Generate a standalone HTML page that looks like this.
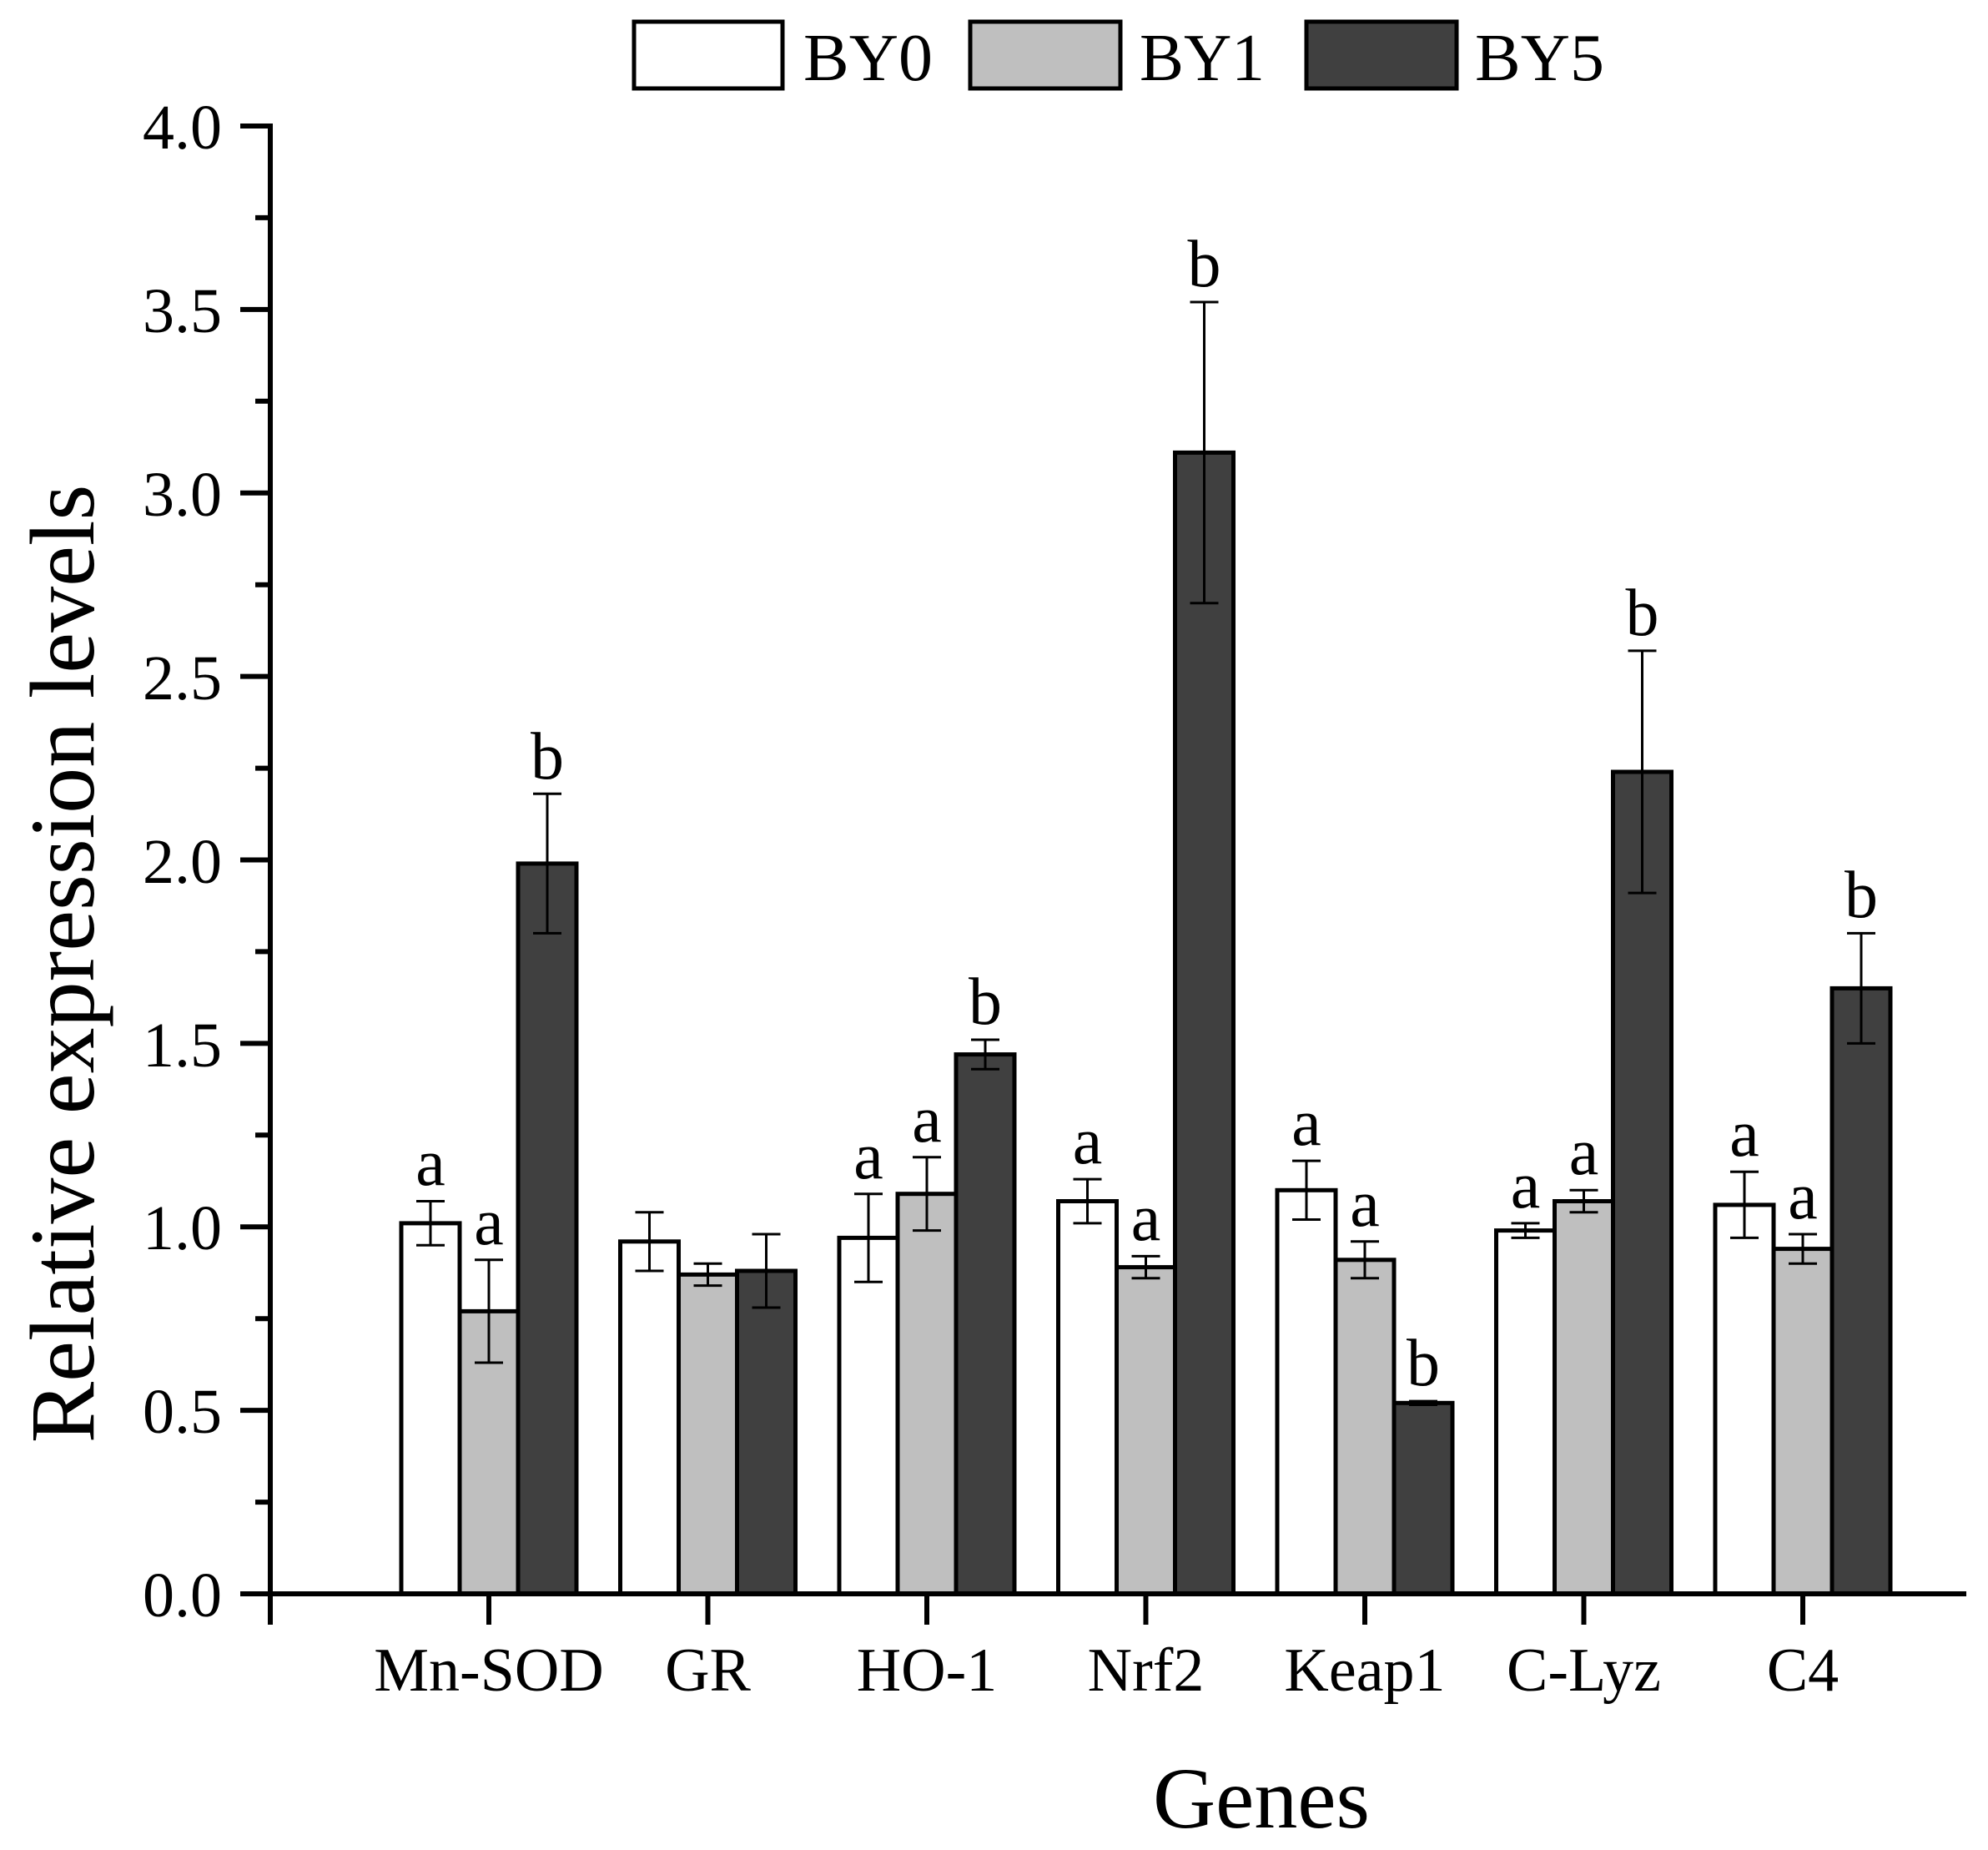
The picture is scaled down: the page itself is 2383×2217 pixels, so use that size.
<!DOCTYPE html>
<html><head><meta charset="utf-8"><style>html,body{margin:0;padding:0;background:#fff}svg{display:block}</style></head>
<body>
<svg width="2383" height="2217" viewBox="0 0 2383 2217" xmlns="http://www.w3.org/2000/svg" font-family="Liberation Serif, serif">
<rect width="2383" height="2217" fill="#fff"/>
<g stroke="#000" stroke-width="5">
<rect x="760" y="26" width="178" height="80" fill="#fff"/>
<rect x="1163" y="26" width="180" height="80" fill="#bfbfbf"/>
<rect x="1566" y="26" width="180" height="80" fill="#404040"/>
</g>
<g font-size="80" fill="#000">
<text x="963" y="96" textLength="155" lengthAdjust="spacingAndGlyphs">BY0</text>
<text x="1366" y="96" textLength="150" lengthAdjust="spacingAndGlyphs">BY1</text>
<text x="1768" y="96" textLength="155" lengthAdjust="spacingAndGlyphs">BY5</text>
</g>
<g stroke="#000" stroke-width="5">
<rect x="481" y="1465.9" width="70" height="444.1" fill="#fff"/>
<rect x="551" y="1571.4" width="70" height="338.6" fill="#bfbfbf"/>
<rect x="621" y="1034.9" width="70" height="875.1" fill="#404040"/>
<rect x="743.5" y="1487.8" width="70" height="422.2" fill="#fff"/>
<rect x="813.5" y="1527.4" width="70" height="382.6" fill="#bfbfbf"/>
<rect x="883.5" y="1523" width="70" height="387" fill="#404040"/>
<rect x="1006" y="1483.4" width="70" height="426.6" fill="#fff"/>
<rect x="1076" y="1430.7" width="70" height="479.3" fill="#bfbfbf"/>
<rect x="1146" y="1263.6" width="70" height="646.4" fill="#404040"/>
<rect x="1268.5" y="1439.5" width="70" height="470.5" fill="#fff"/>
<rect x="1338.5" y="1518.6" width="70" height="391.4" fill="#bfbfbf"/>
<rect x="1408.5" y="542.4" width="70" height="1367.6" fill="#404040"/>
<rect x="1531" y="1426.3" width="70" height="483.7" fill="#fff"/>
<rect x="1601" y="1509.8" width="70" height="400.2" fill="#bfbfbf"/>
<rect x="1671" y="1681.3" width="70" height="228.7" fill="#404040"/>
<rect x="1793.5" y="1474.6" width="70" height="435.4" fill="#fff"/>
<rect x="1863.5" y="1439.5" width="70" height="470.5" fill="#bfbfbf"/>
<rect x="1933.5" y="925" width="70" height="985" fill="#404040"/>
<rect x="2056" y="1443.9" width="70" height="466.1" fill="#fff"/>
<rect x="2126" y="1496.6" width="70" height="413.4" fill="#bfbfbf"/>
<rect x="2196" y="1184.4" width="70" height="725.6" fill="#404040"/>
</g>
<g stroke="#000" stroke-width="3" fill="none">
<path d="M516 1492.2V1439.5M499 1492.2h34M499 1439.5h34"/>
<path d="M586 1633V1509.8M569 1633h34M569 1509.8h34"/>
<path d="M656 1118.4V951.3M639 1118.4h34M639 951.3h34"/>
<path d="M778.5 1523V1452.7M761.5 1523h34M761.5 1452.7h34"/>
<path d="M848.5 1540.6V1514.2M831.5 1540.6h34M831.5 1514.2h34"/>
<path d="M918.5 1567V1479M901.5 1567h34M901.5 1479h34"/>
<path d="M1041 1536.2V1430.7M1024 1536.2h34M1024 1430.7h34"/>
<path d="M1111 1474.6V1386.7M1094 1474.6h34M1094 1386.7h34"/>
<path d="M1181 1281.2V1246M1164 1281.2h34M1164 1246h34"/>
<path d="M1303.5 1465.9V1413.1M1286.5 1465.9h34M1286.5 1413.1h34"/>
<path d="M1373.5 1531.8V1505.4M1356.5 1531.8h34M1356.5 1505.4h34"/>
<path d="M1443.5 722.7V362M1426.5 722.7h34M1426.5 362h34"/>
<path d="M1566 1461.5V1391.1M1549 1461.5h34M1549 1391.1h34"/>
<path d="M1636 1531.8V1487.8M1619 1531.8h34M1619 1487.8h34"/>
<path d="M1706 1683.5V1679.1M1689 1683.5h34M1689 1679.1h34"/>
<path d="M1828.5 1483.4V1465.9M1811.5 1483.4h34M1811.5 1465.9h34"/>
<path d="M1898.5 1452.7V1426.3M1881.5 1452.7h34M1881.5 1426.3h34"/>
<path d="M1968.5 1070.1V779.9M1951.5 1070.1h34M1951.5 779.9h34"/>
<path d="M2091 1483.4V1404.3M2074 1483.4h34M2074 1404.3h34"/>
<path d="M2161 1514.2V1479M2144 1514.2h34M2144 1479h34"/>
<path d="M2231 1250.4V1118.4M2214 1250.4h34M2214 1118.4h34"/>
</g>
<g font-size="80" text-anchor="middle" fill="#000">
<text x="516" y="1420">a</text><text x="586" y="1491">a</text><text x="656" y="933">b</text>
<text x="1041" y="1412">a</text><text x="1111" y="1368">a</text><text x="1181" y="1227">b</text>
<text x="1303.5" y="1394">a</text><text x="1373.5" y="1486">a</text><text x="1443.5" y="343">b</text>
<text x="1566" y="1372">a</text><text x="1636" y="1469">a</text><text x="1706" y="1660">b</text>
<text x="1828.5" y="1447">a</text><text x="1898.5" y="1407">a</text><text x="1968.5" y="761">b</text>
<text x="2091" y="1385">a</text><text x="2161" y="1460">a</text><text x="2231" y="1099">b</text>
</g>
<g stroke="#000" stroke-width="6" fill="none">
<path d="M324 148V1947"/>
<path d="M288 1910H2357"/>
<path d="M288 151H324M288 370.9H324M288 590.75H324M288 810.6H324M288 1030.5H324M288 1250.4H324M288 1470.25H324M288 1690.1H324"/>
<path d="M306 260.9H324M306 480.8H324M306 700.7H324M306 920.6H324M306 1140.4H324M306 1360.3H324M306 1580.2H324M306 1800.1H324"/>
<path d="M586 1910V1947M848.5 1910V1947M1111 1910V1947M1373.5 1910V1947M1636 1910V1947M1898.5 1910V1947M2161 1910V1947"/>
</g>
<g font-size="76" text-anchor="end" fill="#000">
<text x="266" y="178">4.0</text><text x="266" y="398">3.5</text><text x="266" y="618">3.0</text>
<text x="266" y="838">2.5</text><text x="266" y="1058">2.0</text><text x="266" y="1278">1.5</text>
<text x="266" y="1497">1.0</text><text x="266" y="1717">0.5</text><text x="266" y="1937">0.0</text>
</g>
<g font-size="74" text-anchor="middle" fill="#000">
<text x="586" y="2026">Mn-SOD</text><text x="848.5" y="2026">GR</text><text x="1111" y="2026">HO-1</text>
<text x="1373.5" y="2026">Nrf2</text><text x="1636" y="2026">Keap1</text><text x="1898.5" y="2026">C-Lyz</text>
<text x="2161" y="2026">C4</text>
</g>
<text x="1512" y="2190" font-size="104" text-anchor="middle">Genes</text>
<text transform="translate(112,1155) rotate(-90)" font-size="110" text-anchor="middle">Relative expression levels</text>
</svg>
</body></html>
